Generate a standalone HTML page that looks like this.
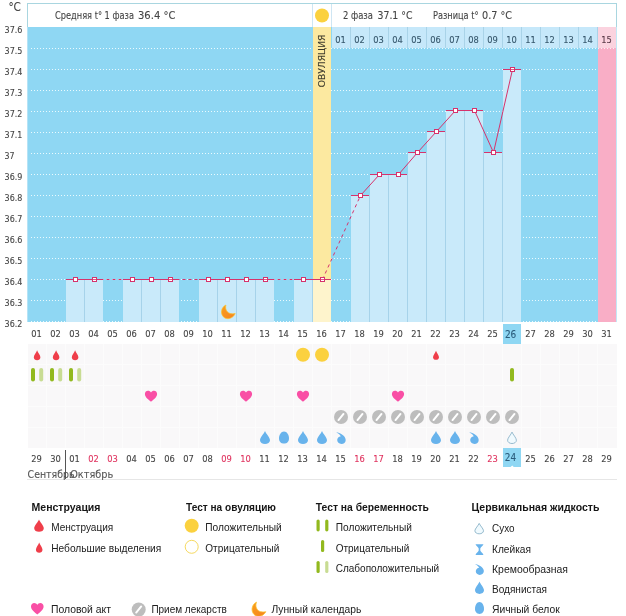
<!DOCTYPE html>
<html lang="ru"><head><meta charset="utf-8"><title>График базальной температуры</title>
<style>html,body{margin:0;padding:0;background:#fff}svg{display:block}text{font-family:"Liberation Sans", sans-serif}.c{font-family:"DejaVu Sans Condensed","DejaVu Sans","Liberation Sans",sans-serif;stroke-width:.1px}</style>
</head><body>
<svg width="626" height="616" viewBox="0 0 626 616">
<rect width="626" height="616" fill="#fff"/>
<defs>
<path id="drop" d="M0,-6.5 C0.9,-4 5,0.2 5,2.7 C5,5.1 2.7,6.5 0,6.5 C-2.7,6.5 -5,5.1 -5,2.7 C-5,0.2 -0.9,-4 0,-6.5Z"/>
<path id="heart" d="M0,5.6 C-2.2,3.6 -6.3,1 -6.3,-2.4 C-6.3,-4.4 -4.8,-5.7 -3.1,-5.7 C-1.8,-5.7 -0.6,-5 0,-3.8 C0.6,-5 1.8,-5.7 3.1,-5.7 C4.8,-5.7 6.3,-4.4 6.3,-2.4 C6.3,1 2.2,3.6 0,5.6Z"/>
<g id="med"><circle r="7" fill="#bdbdbd"/><line x1="-2.5" y1="3.05" x2="2.5" y2="-3.05" stroke="#fff" stroke-width="2" stroke-linecap="round"/></g>
<path id="egg" d="M0,-6 C3,-6 5,-2.6 5,0.8 C5,4 2.8,6 0,6 C-2.8,6 -5,4 -5,0.8 C-5,-2.6 -3,-6 0,-6Z"/>
<path id="cream" d="M-4.8,-5.9 C-1,-5.4 4.7,-2.6 4.7,1.8 C4.7,4.4 2.8,5.9 0.4,5.9 C-2,5.9 -3.8,4.3 -3.8,2 C-3.8,0 -2.3,-1.6 -0.2,-1.8 C-1,-3.4 -2.6,-4.8 -4.8,-5.9Z"/>
<path id="sticky" d="M-4,-5.3 L4,-5.3 C3.3,-3.3 1.2,-2.6 0.8,-1 L0.8,1 C1.2,2.6 3.3,3.3 4,5.3 L-4,5.3 C-3.3,3.3 -1.2,2.6 -0.8,1 L-0.8,-1 C-1.2,-2.6 -3.3,-3.3 -4,-5.3Z"/>
<linearGradient id="mg" x1="0" y1="0" x2="1" y2="1"><stop offset="0" stop-color="#f9a01b"/><stop offset="1" stop-color="#f5821f"/></linearGradient>
<path id="moon" d="M-2.6,-7.4 C-4.2,-2.6 -0.6,3.6 7.2,1.6 C5.6,5.4 1.8,7.6 -1.8,7 C-5.8,6.2 -7.8,2.4 -7.2,-1.4 C-6.8,-4.2 -5,-6.4 -2.6,-7.4Z"/>
<path id="moon2" d="M-2.6,-7.4 C-4.9,-2 -1.4,4.6 7.2,2.6 C5.4,6 1.8,8 -1.8,7.4 C-5.8,6.6 -7.8,2.6 -7.2,-1.2 C-6.8,-4 -5,-6.4 -2.6,-7.4Z"/>
</defs>
<rect x="27.5" y="3.5" width="589" height="24" fill="#fff" stroke="#a9d6e0"/>
<line x1="312.5" y1="4" x2="312.5" y2="27" stroke="#cfe6f3"/>
<line x1="331.5" y1="4" x2="331.5" y2="27" stroke="#cfe6f3"/>
<circle cx="322" cy="15.5" r="7" fill="#fbd13f"/>
<rect x="27" y="27" width="589" height="295" fill="#8fd7f3"/>
<rect x="616" y="27" width="1" height="295" fill="#c3e8f6"/>
<rect x="27" y="27" width="1" height="295" fill="#b5e3f6"/>
<rect x="332" y="27" width="266" height="21" fill="#c6e8fa"/>
<rect x="598" y="27" width="18" height="21" fill="#fbd3df"/>
<rect x="350" y="27" width="1" height="21" fill="#a9d3e8"/>
<rect x="369" y="27" width="1" height="21" fill="#a9d3e8"/>
<rect x="388" y="27" width="1" height="21" fill="#a9d3e8"/>
<rect x="407" y="27" width="1" height="21" fill="#a9d3e8"/>
<rect x="426" y="27" width="1" height="21" fill="#a9d3e8"/>
<rect x="445" y="27" width="1" height="21" fill="#a9d3e8"/>
<rect x="464" y="27" width="1" height="21" fill="#a9d3e8"/>
<rect x="483" y="27" width="1" height="21" fill="#a9d3e8"/>
<rect x="502" y="27" width="1" height="21" fill="#a9d3e8"/>
<rect x="521" y="27" width="1" height="21" fill="#a9d3e8"/>
<rect x="540" y="27" width="1" height="21" fill="#a9d3e8"/>
<rect x="559" y="27" width="1" height="21" fill="#a9d3e8"/>
<rect x="578" y="27" width="1" height="21" fill="#a9d3e8"/>
<rect x="597" y="27" width="1" height="21" fill="#a9d3e8"/>
<line x1="31" y1="48.5" x2="598" y2="48.5" stroke="#eafafe" stroke-width="1" stroke-dasharray="1 2"/>
<line x1="31" y1="69.5" x2="598" y2="69.5" stroke="#eafafe" stroke-width="1" stroke-dasharray="1 2"/>
<line x1="31" y1="90.5" x2="598" y2="90.5" stroke="#eafafe" stroke-width="1" stroke-dasharray="1 2"/>
<line x1="31" y1="111.5" x2="598" y2="111.5" stroke="#eafafe" stroke-width="1" stroke-dasharray="1 2"/>
<line x1="31" y1="132.5" x2="598" y2="132.5" stroke="#eafafe" stroke-width="1" stroke-dasharray="1 2"/>
<line x1="31" y1="153.5" x2="598" y2="153.5" stroke="#eafafe" stroke-width="1" stroke-dasharray="1 2"/>
<line x1="31" y1="174.5" x2="598" y2="174.5" stroke="#eafafe" stroke-width="1" stroke-dasharray="1 2"/>
<line x1="31" y1="195.5" x2="598" y2="195.5" stroke="#eafafe" stroke-width="1" stroke-dasharray="1 2"/>
<line x1="31" y1="216.5" x2="598" y2="216.5" stroke="#eafafe" stroke-width="1" stroke-dasharray="1 2"/>
<line x1="31" y1="237.5" x2="598" y2="237.5" stroke="#eafafe" stroke-width="1" stroke-dasharray="1 2"/>
<line x1="31" y1="258.5" x2="598" y2="258.5" stroke="#eafafe" stroke-width="1" stroke-dasharray="1 2"/>
<line x1="31" y1="279.5" x2="598" y2="279.5" stroke="#eafafe" stroke-width="1" stroke-dasharray="1 2"/>
<line x1="31" y1="300.5" x2="598" y2="300.5" stroke="#eafafe" stroke-width="1" stroke-dasharray="1 2"/>
<line x1="31" y1="321.5" x2="598" y2="321.5" stroke="#eafafe" stroke-width="1" stroke-dasharray="1 2"/>
<rect x="313" y="27" width="18" height="295" fill="#fce9a0"/>
<rect x="598" y="48" width="18" height="274" fill="#f9aec6"/>
<line x1="598" y1="48.5" x2="616" y2="48.5" stroke="#fdeef3" stroke-width="1" stroke-dasharray="1 2"/>
<rect x="66" y="279" width="18" height="43" fill="#c9eafa"/>
<rect x="84" y="279" width="1" height="43" fill="#a6d3ea"/>
<rect x="85" y="279" width="18" height="43" fill="#c9eafa"/>
<rect x="123" y="279" width="18" height="43" fill="#c9eafa"/>
<rect x="141" y="279" width="1" height="43" fill="#a6d3ea"/>
<rect x="142" y="279" width="18" height="43" fill="#c9eafa"/>
<rect x="160" y="279" width="1" height="43" fill="#a6d3ea"/>
<rect x="161" y="279" width="18" height="43" fill="#c9eafa"/>
<rect x="199" y="279" width="18" height="43" fill="#c9eafa"/>
<rect x="217" y="279" width="1" height="43" fill="#a6d3ea"/>
<rect x="218" y="279" width="18" height="43" fill="#c9eafa"/>
<rect x="236" y="279" width="1" height="43" fill="#a6d3ea"/>
<rect x="237" y="279" width="18" height="43" fill="#c9eafa"/>
<rect x="255" y="279" width="1" height="43" fill="#a6d3ea"/>
<rect x="256" y="279" width="18" height="43" fill="#c9eafa"/>
<rect x="294" y="279" width="18" height="43" fill="#c9eafa"/>
<rect x="312" y="279" width="1" height="43" fill="#a6d3ea"/>
<rect x="313" y="279" width="18" height="43" fill="#fef4cc"/>
<rect x="351" y="195" width="18" height="127" fill="#c9eafa"/>
<rect x="369" y="195" width="1" height="127" fill="#a6d3ea"/>
<rect x="370" y="174" width="18" height="148" fill="#c9eafa"/>
<rect x="388" y="174" width="1" height="148" fill="#a6d3ea"/>
<rect x="389" y="174" width="18" height="148" fill="#c9eafa"/>
<rect x="407" y="174" width="1" height="148" fill="#a6d3ea"/>
<rect x="408" y="152" width="18" height="170" fill="#c9eafa"/>
<rect x="426" y="152" width="1" height="170" fill="#a6d3ea"/>
<rect x="427" y="131" width="18" height="191" fill="#c9eafa"/>
<rect x="445" y="131" width="1" height="191" fill="#a6d3ea"/>
<rect x="446" y="110" width="18" height="212" fill="#c9eafa"/>
<rect x="464" y="110" width="1" height="212" fill="#a6d3ea"/>
<rect x="465" y="110" width="18" height="212" fill="#c9eafa"/>
<rect x="483" y="152" width="1" height="170" fill="#a6d3ea"/>
<rect x="484" y="152" width="18" height="170" fill="#c9eafa"/>
<rect x="502" y="152" width="1" height="170" fill="#a6d3ea"/>
<rect x="503" y="69" width="18" height="253" fill="#c9eafa"/>
<use href="#moon" transform="translate(228.4,312) scale(0.94)" fill="url(#mg)" stroke="#fbc12d" stroke-width="0.8"/>
<line x1="75.5" y1="279.5" x2="94.5" y2="279.5" stroke="#d6336c" stroke-width="1"/>
<line x1="94.5" y1="279.5" x2="132.5" y2="279.5" stroke="#d6336c" stroke-width="1" stroke-dasharray="3 3"/>
<line x1="132.5" y1="279.5" x2="151.5" y2="279.5" stroke="#d6336c" stroke-width="1"/>
<line x1="151.5" y1="279.5" x2="170.5" y2="279.5" stroke="#d6336c" stroke-width="1"/>
<line x1="170.5" y1="279.5" x2="208.5" y2="279.5" stroke="#d6336c" stroke-width="1" stroke-dasharray="3 3"/>
<line x1="208.5" y1="279.5" x2="227.5" y2="279.5" stroke="#d6336c" stroke-width="1"/>
<line x1="227.5" y1="279.5" x2="246.5" y2="279.5" stroke="#d6336c" stroke-width="1"/>
<line x1="246.5" y1="279.5" x2="265.5" y2="279.5" stroke="#d6336c" stroke-width="1"/>
<line x1="265.5" y1="279.5" x2="303.5" y2="279.5" stroke="#d6336c" stroke-width="1" stroke-dasharray="3 3"/>
<line x1="303.5" y1="279.5" x2="322.5" y2="279.5" stroke="#d6336c" stroke-width="1"/>
<line x1="322.5" y1="279.5" x2="360.5" y2="195.5" stroke="#d6336c" stroke-width="1" stroke-dasharray="3.3 3.3"/>
<line x1="360.5" y1="195.5" x2="379.5" y2="174.5" stroke="#d6336c" stroke-width="1"/>
<line x1="379.5" y1="174.5" x2="398.5" y2="174.5" stroke="#d6336c" stroke-width="1"/>
<line x1="398.5" y1="174.5" x2="417.5" y2="152.5" stroke="#d6336c" stroke-width="1"/>
<line x1="417.5" y1="152.5" x2="436.5" y2="131.5" stroke="#d6336c" stroke-width="1"/>
<line x1="436.5" y1="131.5" x2="455.5" y2="110.5" stroke="#d6336c" stroke-width="1"/>
<line x1="455.5" y1="110.5" x2="474.5" y2="110.5" stroke="#d6336c" stroke-width="1"/>
<line x1="474.5" y1="110.5" x2="493.5" y2="152.5" stroke="#d6336c" stroke-width="1"/>
<line x1="493.5" y1="152.5" x2="512.5" y2="69.5" stroke="#d6336c" stroke-width="1"/>
<rect x="66" y="279" width="18" height="1" fill="#d6336c"/>
<rect x="85" y="279" width="18" height="1" fill="#d6336c"/>
<rect x="123" y="279" width="18" height="1" fill="#d6336c"/>
<rect x="142" y="279" width="18" height="1" fill="#d6336c"/>
<rect x="161" y="279" width="18" height="1" fill="#d6336c"/>
<rect x="199" y="279" width="18" height="1" fill="#d6336c"/>
<rect x="218" y="279" width="18" height="1" fill="#d6336c"/>
<rect x="237" y="279" width="18" height="1" fill="#d6336c"/>
<rect x="256" y="279" width="18" height="1" fill="#d6336c"/>
<rect x="294" y="279" width="18" height="1" fill="#d6336c"/>
<rect x="313" y="279" width="18" height="1" fill="#d6336c"/>
<rect x="351" y="195" width="18" height="1" fill="#d6336c"/>
<rect x="370" y="174" width="18" height="1" fill="#d6336c"/>
<rect x="389" y="174" width="18" height="1" fill="#d6336c"/>
<rect x="408" y="152" width="18" height="1" fill="#d6336c"/>
<rect x="427" y="131" width="18" height="1" fill="#d6336c"/>
<rect x="446" y="110" width="18" height="1" fill="#d6336c"/>
<rect x="465" y="110" width="18" height="1" fill="#d6336c"/>
<rect x="484" y="152" width="18" height="1" fill="#d6336c"/>
<rect x="503" y="69" width="18" height="1" fill="#d6336c"/>
<rect x="73.5" y="277.5" width="4" height="4" fill="#fff" stroke="#d6336c" stroke-width="1"/>
<rect x="92.5" y="277.5" width="4" height="4" fill="#fff" stroke="#d6336c" stroke-width="1"/>
<rect x="93" y="279" width="3" height="1" fill="#d6336c" fill-opacity="0.8"/>
<rect x="130.5" y="277.5" width="4" height="4" fill="#fff" stroke="#d6336c" stroke-width="1"/>
<rect x="149.5" y="277.5" width="4" height="4" fill="#fff" stroke="#d6336c" stroke-width="1"/>
<rect x="168.5" y="277.5" width="4" height="4" fill="#fff" stroke="#d6336c" stroke-width="1"/>
<rect x="169" y="279" width="3" height="1" fill="#d6336c" fill-opacity="0.8"/>
<rect x="206.5" y="277.5" width="4" height="4" fill="#fff" stroke="#d6336c" stroke-width="1"/>
<rect x="225.5" y="277.5" width="4" height="4" fill="#fff" stroke="#d6336c" stroke-width="1"/>
<rect x="244.5" y="277.5" width="4" height="4" fill="#fff" stroke="#d6336c" stroke-width="1"/>
<rect x="263.5" y="277.5" width="4" height="4" fill="#fff" stroke="#d6336c" stroke-width="1"/>
<rect x="264" y="279" width="3" height="1" fill="#d6336c" fill-opacity="0.8"/>
<rect x="301.5" y="277.5" width="4" height="4" fill="#fff" stroke="#d6336c" stroke-width="1"/>
<rect x="320.5" y="277.5" width="4" height="4" fill="#fff" stroke="#d6336c" stroke-width="1"/>
<rect x="321" y="279" width="3" height="1" fill="#d6336c" fill-opacity="0.8"/>
<rect x="358.5" y="193.5" width="4" height="4" fill="#fff" stroke="#d6336c" stroke-width="1"/>
<rect x="377.5" y="172.5" width="4" height="4" fill="#fff" stroke="#d6336c" stroke-width="1"/>
<rect x="396.5" y="172.5" width="4" height="4" fill="#fff" stroke="#d6336c" stroke-width="1"/>
<rect x="415.5" y="150.5" width="4" height="4" fill="#fff" stroke="#d6336c" stroke-width="1"/>
<rect x="434.5" y="129.5" width="4" height="4" fill="#fff" stroke="#d6336c" stroke-width="1"/>
<rect x="453.5" y="108.5" width="4" height="4" fill="#fff" stroke="#d6336c" stroke-width="1"/>
<rect x="472.5" y="108.5" width="4" height="4" fill="#fff" stroke="#d6336c" stroke-width="1"/>
<rect x="491.5" y="150.5" width="4" height="4" fill="#fff" stroke="#d6336c" stroke-width="1"/>
<rect x="510.5" y="67.5" width="4" height="4" fill="#fff" stroke="#d6336c" stroke-width="1"/>
<rect x="511" y="69" width="3" height="1" fill="#d6336c" fill-opacity="0.8"/>
<text class="c" x="8.4" y="11.2" font-size="12.5" fill="#444" stroke="#444" textLength="12.5" lengthAdjust="spacingAndGlyphs">°C</text>
<text class="c" x="4.6" y="33" font-size="9.3" fill="#444" stroke="#444" textLength="17.8" lengthAdjust="spacingAndGlyphs">37.6</text>
<text class="c" x="4.6" y="54" font-size="9.3" fill="#444" stroke="#444" textLength="17.8" lengthAdjust="spacingAndGlyphs">37.5</text>
<text class="c" x="4.6" y="75" font-size="9.3" fill="#444" stroke="#444" textLength="17.8" lengthAdjust="spacingAndGlyphs">37.4</text>
<text class="c" x="4.6" y="96" font-size="9.3" fill="#444" stroke="#444" textLength="17.8" lengthAdjust="spacingAndGlyphs">37.3</text>
<text class="c" x="4.6" y="117" font-size="9.3" fill="#444" stroke="#444" textLength="17.8" lengthAdjust="spacingAndGlyphs">37.2</text>
<text class="c" x="4.6" y="138" font-size="9.3" fill="#444" stroke="#444" textLength="17.8" lengthAdjust="spacingAndGlyphs">37.1</text>
<text class="c" x="4.6" y="159" font-size="9.3" fill="#444" stroke="#444" textLength="10" lengthAdjust="spacingAndGlyphs">37</text>
<text class="c" x="4.6" y="180" font-size="9.3" fill="#444" stroke="#444" textLength="17.8" lengthAdjust="spacingAndGlyphs">36.9</text>
<text class="c" x="4.6" y="201" font-size="9.3" fill="#444" stroke="#444" textLength="17.8" lengthAdjust="spacingAndGlyphs">36.8</text>
<text class="c" x="4.6" y="222" font-size="9.3" fill="#444" stroke="#444" textLength="17.8" lengthAdjust="spacingAndGlyphs">36.7</text>
<text class="c" x="4.6" y="243" font-size="9.3" fill="#444" stroke="#444" textLength="17.8" lengthAdjust="spacingAndGlyphs">36.6</text>
<text class="c" x="4.6" y="264" font-size="9.3" fill="#444" stroke="#444" textLength="17.8" lengthAdjust="spacingAndGlyphs">36.5</text>
<text class="c" x="4.6" y="285" font-size="9.3" fill="#444" stroke="#444" textLength="17.8" lengthAdjust="spacingAndGlyphs">36.4</text>
<text class="c" x="4.6" y="306" font-size="9.3" fill="#444" stroke="#444" textLength="17.8" lengthAdjust="spacingAndGlyphs">36.3</text>
<text class="c" x="4.6" y="327" font-size="9.3" fill="#444" stroke="#444" textLength="17.8" lengthAdjust="spacingAndGlyphs">36.2</text>
<text class="c" x="55" y="19.3" font-size="10" fill="#444" stroke="#444" textLength="79" lengthAdjust="spacingAndGlyphs">Средняя t° 1 фаза</text>
<text class="c" x="138" y="19.3" font-size="11" fill="#444" stroke="#444" textLength="37.5" lengthAdjust="spacingAndGlyphs">36.4 °C</text>
<text class="c" x="343" y="19.3" font-size="10" fill="#444" stroke="#444" textLength="30" lengthAdjust="spacingAndGlyphs">2 фаза</text>
<text class="c" x="377.5" y="19.3" font-size="11" fill="#444" stroke="#444" textLength="35" lengthAdjust="spacingAndGlyphs">37.1 °C</text>
<text class="c" x="433" y="19.3" font-size="10" fill="#444" stroke="#444" textLength="45.5" lengthAdjust="spacingAndGlyphs">Разница t°</text>
<text class="c" x="482" y="19.3" font-size="11" fill="#444" stroke="#444" textLength="30" lengthAdjust="spacingAndGlyphs">0.7 °C</text>
<text class="c" transform="translate(324.8,87.2) rotate(-90)" font-size="9.4" fill="#3c3a2c" stroke="#3c3a2c" textLength="52.6" lengthAdjust="spacingAndGlyphs">ОВУЛЯЦИЯ</text>
<text class="c" x="340.5" y="43" font-size="9.3" fill="#35566b" stroke="#35566b" text-anchor="middle" textLength="10.6" lengthAdjust="spacingAndGlyphs">01</text>
<text class="c" x="359.5" y="43" font-size="9.3" fill="#35566b" stroke="#35566b" text-anchor="middle" textLength="10.6" lengthAdjust="spacingAndGlyphs">02</text>
<text class="c" x="378.5" y="43" font-size="9.3" fill="#35566b" stroke="#35566b" text-anchor="middle" textLength="10.6" lengthAdjust="spacingAndGlyphs">03</text>
<text class="c" x="397.5" y="43" font-size="9.3" fill="#35566b" stroke="#35566b" text-anchor="middle" textLength="10.6" lengthAdjust="spacingAndGlyphs">04</text>
<text class="c" x="416.5" y="43" font-size="9.3" fill="#35566b" stroke="#35566b" text-anchor="middle" textLength="10.6" lengthAdjust="spacingAndGlyphs">05</text>
<text class="c" x="435.5" y="43" font-size="9.3" fill="#35566b" stroke="#35566b" text-anchor="middle" textLength="10.6" lengthAdjust="spacingAndGlyphs">06</text>
<text class="c" x="454.5" y="43" font-size="9.3" fill="#35566b" stroke="#35566b" text-anchor="middle" textLength="10.6" lengthAdjust="spacingAndGlyphs">07</text>
<text class="c" x="473.5" y="43" font-size="9.3" fill="#35566b" stroke="#35566b" text-anchor="middle" textLength="10.6" lengthAdjust="spacingAndGlyphs">08</text>
<text class="c" x="492.5" y="43" font-size="9.3" fill="#35566b" stroke="#35566b" text-anchor="middle" textLength="10.6" lengthAdjust="spacingAndGlyphs">09</text>
<text class="c" x="511.5" y="43" font-size="9.3" fill="#35566b" stroke="#35566b" text-anchor="middle" textLength="10.6" lengthAdjust="spacingAndGlyphs">10</text>
<text class="c" x="530.5" y="43" font-size="9.3" fill="#35566b" stroke="#35566b" text-anchor="middle" textLength="10.6" lengthAdjust="spacingAndGlyphs">11</text>
<text class="c" x="549.5" y="43" font-size="9.3" fill="#35566b" stroke="#35566b" text-anchor="middle" textLength="10.6" lengthAdjust="spacingAndGlyphs">12</text>
<text class="c" x="568.5" y="43" font-size="9.3" fill="#35566b" stroke="#35566b" text-anchor="middle" textLength="10.6" lengthAdjust="spacingAndGlyphs">13</text>
<text class="c" x="587.5" y="43" font-size="9.3" fill="#35566b" stroke="#35566b" text-anchor="middle" textLength="10.6" lengthAdjust="spacingAndGlyphs">14</text>
<text class="c" x="606.5" y="43" font-size="9.3" fill="#5a3a48" stroke="#5a3a48" text-anchor="middle" textLength="10.6" lengthAdjust="spacingAndGlyphs">15</text>
<rect x="503" y="324" width="18" height="20" fill="#8fd7f3"/>
<text class="c" x="36.6" y="336.8" font-size="9.3" fill="#444" stroke="#444" text-anchor="middle" textLength="10.6" lengthAdjust="spacingAndGlyphs">01</text>
<text class="c" x="55.6" y="336.8" font-size="9.3" fill="#444" stroke="#444" text-anchor="middle" textLength="10.6" lengthAdjust="spacingAndGlyphs">02</text>
<text class="c" x="74.6" y="336.8" font-size="9.3" fill="#444" stroke="#444" text-anchor="middle" textLength="10.6" lengthAdjust="spacingAndGlyphs">03</text>
<text class="c" x="93.6" y="336.8" font-size="9.3" fill="#444" stroke="#444" text-anchor="middle" textLength="10.6" lengthAdjust="spacingAndGlyphs">04</text>
<text class="c" x="112.6" y="336.8" font-size="9.3" fill="#444" stroke="#444" text-anchor="middle" textLength="10.6" lengthAdjust="spacingAndGlyphs">05</text>
<text class="c" x="131.6" y="336.8" font-size="9.3" fill="#444" stroke="#444" text-anchor="middle" textLength="10.6" lengthAdjust="spacingAndGlyphs">06</text>
<text class="c" x="150.6" y="336.8" font-size="9.3" fill="#444" stroke="#444" text-anchor="middle" textLength="10.6" lengthAdjust="spacingAndGlyphs">07</text>
<text class="c" x="169.6" y="336.8" font-size="9.3" fill="#444" stroke="#444" text-anchor="middle" textLength="10.6" lengthAdjust="spacingAndGlyphs">08</text>
<text class="c" x="188.6" y="336.8" font-size="9.3" fill="#444" stroke="#444" text-anchor="middle" textLength="10.6" lengthAdjust="spacingAndGlyphs">09</text>
<text class="c" x="207.6" y="336.8" font-size="9.3" fill="#444" stroke="#444" text-anchor="middle" textLength="10.6" lengthAdjust="spacingAndGlyphs">10</text>
<text class="c" x="226.6" y="336.8" font-size="9.3" fill="#444" stroke="#444" text-anchor="middle" textLength="10.6" lengthAdjust="spacingAndGlyphs">11</text>
<text class="c" x="245.6" y="336.8" font-size="9.3" fill="#444" stroke="#444" text-anchor="middle" textLength="10.6" lengthAdjust="spacingAndGlyphs">12</text>
<text class="c" x="264.6" y="336.8" font-size="9.3" fill="#444" stroke="#444" text-anchor="middle" textLength="10.6" lengthAdjust="spacingAndGlyphs">13</text>
<text class="c" x="283.6" y="336.8" font-size="9.3" fill="#444" stroke="#444" text-anchor="middle" textLength="10.6" lengthAdjust="spacingAndGlyphs">14</text>
<text class="c" x="302.6" y="336.8" font-size="9.3" fill="#444" stroke="#444" text-anchor="middle" textLength="10.6" lengthAdjust="spacingAndGlyphs">15</text>
<text class="c" x="321.6" y="336.8" font-size="9.3" fill="#444" stroke="#444" text-anchor="middle" textLength="10.6" lengthAdjust="spacingAndGlyphs">16</text>
<text class="c" x="340.6" y="336.8" font-size="9.3" fill="#444" stroke="#444" text-anchor="middle" textLength="10.6" lengthAdjust="spacingAndGlyphs">17</text>
<text class="c" x="359.6" y="336.8" font-size="9.3" fill="#444" stroke="#444" text-anchor="middle" textLength="10.6" lengthAdjust="spacingAndGlyphs">18</text>
<text class="c" x="378.6" y="336.8" font-size="9.3" fill="#444" stroke="#444" text-anchor="middle" textLength="10.6" lengthAdjust="spacingAndGlyphs">19</text>
<text class="c" x="397.6" y="336.8" font-size="9.3" fill="#444" stroke="#444" text-anchor="middle" textLength="10.6" lengthAdjust="spacingAndGlyphs">20</text>
<text class="c" x="416.6" y="336.8" font-size="9.3" fill="#444" stroke="#444" text-anchor="middle" textLength="10.6" lengthAdjust="spacingAndGlyphs">21</text>
<text class="c" x="435.6" y="336.8" font-size="9.3" fill="#444" stroke="#444" text-anchor="middle" textLength="10.6" lengthAdjust="spacingAndGlyphs">22</text>
<text class="c" x="454.6" y="336.8" font-size="9.3" fill="#444" stroke="#444" text-anchor="middle" textLength="10.6" lengthAdjust="spacingAndGlyphs">23</text>
<text class="c" x="473.6" y="336.8" font-size="9.3" fill="#444" stroke="#444" text-anchor="middle" textLength="10.6" lengthAdjust="spacingAndGlyphs">24</text>
<text class="c" x="492.6" y="336.8" font-size="9.3" fill="#444" stroke="#444" text-anchor="middle" textLength="10.6" lengthAdjust="spacingAndGlyphs">25</text>
<text class="c" x="510.6" y="337.8" font-size="10.5" fill="#2b5d7c" stroke="#2b5d7c" text-anchor="middle" textLength="11.4" lengthAdjust="spacingAndGlyphs">26</text>
<text class="c" x="530.6" y="336.8" font-size="9.3" fill="#444" stroke="#444" text-anchor="middle" textLength="10.6" lengthAdjust="spacingAndGlyphs">27</text>
<text class="c" x="549.6" y="336.8" font-size="9.3" fill="#444" stroke="#444" text-anchor="middle" textLength="10.6" lengthAdjust="spacingAndGlyphs">28</text>
<text class="c" x="568.6" y="336.8" font-size="9.3" fill="#444" stroke="#444" text-anchor="middle" textLength="10.6" lengthAdjust="spacingAndGlyphs">29</text>
<text class="c" x="587.6" y="336.8" font-size="9.3" fill="#444" stroke="#444" text-anchor="middle" textLength="10.6" lengthAdjust="spacingAndGlyphs">30</text>
<text class="c" x="606.6" y="336.8" font-size="9.3" fill="#444" stroke="#444" text-anchor="middle" textLength="10.6" lengthAdjust="spacingAndGlyphs">31</text>
<rect x="28" y="344" width="589" height="104" fill="#f9f8f9"/>
<rect x="28" y="364" width="589" height="1" fill="#fcfcfc"/>
<rect x="28" y="385" width="589" height="1" fill="#fcfcfc"/>
<rect x="28" y="406" width="589" height="1" fill="#fcfcfc"/>
<rect x="28" y="427" width="589" height="1" fill="#fcfcfc"/>
<rect x="46" y="344" width="1" height="104" fill="#fcfcfc"/>
<rect x="65" y="344" width="1" height="104" fill="#fcfcfc"/>
<rect x="84" y="344" width="1" height="104" fill="#fcfcfc"/>
<rect x="103" y="344" width="1" height="104" fill="#fcfcfc"/>
<rect x="122" y="344" width="1" height="104" fill="#fcfcfc"/>
<rect x="141" y="344" width="1" height="104" fill="#fcfcfc"/>
<rect x="160" y="344" width="1" height="104" fill="#fcfcfc"/>
<rect x="179" y="344" width="1" height="104" fill="#fcfcfc"/>
<rect x="198" y="344" width="1" height="104" fill="#fcfcfc"/>
<rect x="217" y="344" width="1" height="104" fill="#fcfcfc"/>
<rect x="236" y="344" width="1" height="104" fill="#fcfcfc"/>
<rect x="255" y="344" width="1" height="104" fill="#fcfcfc"/>
<rect x="274" y="344" width="1" height="104" fill="#fcfcfc"/>
<rect x="293" y="344" width="1" height="104" fill="#fcfcfc"/>
<rect x="312" y="344" width="1" height="104" fill="#fcfcfc"/>
<rect x="331" y="344" width="1" height="104" fill="#fcfcfc"/>
<rect x="350" y="344" width="1" height="104" fill="#fcfcfc"/>
<rect x="369" y="344" width="1" height="104" fill="#fcfcfc"/>
<rect x="388" y="344" width="1" height="104" fill="#fcfcfc"/>
<rect x="407" y="344" width="1" height="104" fill="#fcfcfc"/>
<rect x="426" y="344" width="1" height="104" fill="#fcfcfc"/>
<rect x="445" y="344" width="1" height="104" fill="#fcfcfc"/>
<rect x="464" y="344" width="1" height="104" fill="#fcfcfc"/>
<rect x="483" y="344" width="1" height="104" fill="#fcfcfc"/>
<rect x="502" y="344" width="1" height="104" fill="#fcfcfc"/>
<rect x="521" y="344" width="1" height="104" fill="#fcfcfc"/>
<rect x="540" y="344" width="1" height="104" fill="#fcfcfc"/>
<rect x="559" y="344" width="1" height="104" fill="#fcfcfc"/>
<rect x="578" y="344" width="1" height="104" fill="#fcfcfc"/>
<rect x="597" y="344" width="1" height="104" fill="#fcfcfc"/>
<use href="#drop" transform="translate(37.1,355.3) scale(0.66,0.76)" fill="#ef3e4a"/>
<use href="#drop" transform="translate(56.1,355.3) scale(0.66,0.76)" fill="#ef3e4a"/>
<use href="#drop" transform="translate(75.1,355.3) scale(0.66,0.76)" fill="#ef3e4a"/>
<use href="#drop" transform="translate(436,355.3) scale(0.6,0.7)" fill="#ef3e4a"/>
<circle cx="303" cy="354.7" r="7" fill="#fbd13f"/>
<circle cx="322" cy="354.7" r="7" fill="#fbd13f"/>
<rect x="31" y="368" width="4" height="13.6" rx="2" fill="#92b91e"/>
<rect x="39.2" y="368" width="4" height="13.6" rx="2" fill="#c8dc93"/>
<rect x="50" y="368" width="4" height="13.6" rx="2" fill="#92b91e"/>
<rect x="58.2" y="368" width="4" height="13.6" rx="2" fill="#c8dc93"/>
<rect x="69" y="368" width="4" height="13.6" rx="2" fill="#92b91e"/>
<rect x="77.2" y="368" width="4" height="13.6" rx="2" fill="#c8dc93"/>
<rect x="510" y="368" width="4" height="13.6" rx="2" fill="#92b91e"/>
<use href="#heart" transform="translate(151,396.3) scale(0.97)" fill="#f94fa5"/>
<use href="#heart" transform="translate(246,396.3) scale(0.97)" fill="#f94fa5"/>
<use href="#heart" transform="translate(303,396.3) scale(0.97)" fill="#f94fa5"/>
<use href="#heart" transform="translate(398,396.3) scale(0.97)" fill="#f94fa5"/>
<use href="#med" transform="translate(341,417)"/>
<use href="#med" transform="translate(360,417)"/>
<use href="#med" transform="translate(379,417)"/>
<use href="#med" transform="translate(398,417)"/>
<use href="#med" transform="translate(417,417)"/>
<use href="#med" transform="translate(436,417)"/>
<use href="#med" transform="translate(455,417)"/>
<use href="#med" transform="translate(474,417)"/>
<use href="#med" transform="translate(493,417)"/>
<use href="#med" transform="translate(512,417)"/>
<use href="#drop" transform="translate(265,437.6)" fill="#68b3ec"/>
<use href="#egg" transform="translate(284,437.6)" fill="#68b3ec"/>
<use href="#drop" transform="translate(303,437.6)" fill="#68b3ec"/>
<use href="#drop" transform="translate(322,437.6)" fill="#68b3ec"/>
<use href="#cream" transform="translate(341,438.1)" fill="#68b3ec"/>
<use href="#drop" transform="translate(436,437.6)" fill="#68b3ec"/>
<use href="#drop" transform="translate(455,437.6)" fill="#68b3ec"/>
<use href="#cream" transform="translate(474,438.1)" fill="#68b3ec"/>
<use href="#drop" transform="translate(512,437.8) scale(0.88)" fill="#f0fafe" stroke="#8bb3c8" stroke-width="1"/>
<path d="M503,448 H521 V467 H513.8 L512.2,465.4 L510.6,467 H503Z" fill="#8fd7f3"/>
<text class="c" x="36.6" y="462.2" font-size="9.3" fill="#444" stroke="#444" text-anchor="middle" textLength="10.6" lengthAdjust="spacingAndGlyphs">29</text>
<text class="c" x="55.6" y="462.2" font-size="9.3" fill="#444" stroke="#444" text-anchor="middle" textLength="10.6" lengthAdjust="spacingAndGlyphs">30</text>
<text class="c" x="74.6" y="462.2" font-size="9.3" fill="#444" stroke="#444" text-anchor="middle" textLength="10.6" lengthAdjust="spacingAndGlyphs">01</text>
<text class="c" x="93.6" y="462.2" font-size="9.3" fill="#e0335f" stroke="#e0335f" text-anchor="middle" textLength="10.6" lengthAdjust="spacingAndGlyphs">02</text>
<text class="c" x="112.6" y="462.2" font-size="9.3" fill="#e0335f" stroke="#e0335f" text-anchor="middle" textLength="10.6" lengthAdjust="spacingAndGlyphs">03</text>
<text class="c" x="131.6" y="462.2" font-size="9.3" fill="#444" stroke="#444" text-anchor="middle" textLength="10.6" lengthAdjust="spacingAndGlyphs">04</text>
<text class="c" x="150.6" y="462.2" font-size="9.3" fill="#444" stroke="#444" text-anchor="middle" textLength="10.6" lengthAdjust="spacingAndGlyphs">05</text>
<text class="c" x="169.6" y="462.2" font-size="9.3" fill="#444" stroke="#444" text-anchor="middle" textLength="10.6" lengthAdjust="spacingAndGlyphs">06</text>
<text class="c" x="188.6" y="462.2" font-size="9.3" fill="#444" stroke="#444" text-anchor="middle" textLength="10.6" lengthAdjust="spacingAndGlyphs">07</text>
<text class="c" x="207.6" y="462.2" font-size="9.3" fill="#444" stroke="#444" text-anchor="middle" textLength="10.6" lengthAdjust="spacingAndGlyphs">08</text>
<text class="c" x="226.6" y="462.2" font-size="9.3" fill="#e0335f" stroke="#e0335f" text-anchor="middle" textLength="10.6" lengthAdjust="spacingAndGlyphs">09</text>
<text class="c" x="245.6" y="462.2" font-size="9.3" fill="#e0335f" stroke="#e0335f" text-anchor="middle" textLength="10.6" lengthAdjust="spacingAndGlyphs">10</text>
<text class="c" x="264.6" y="462.2" font-size="9.3" fill="#444" stroke="#444" text-anchor="middle" textLength="10.6" lengthAdjust="spacingAndGlyphs">11</text>
<text class="c" x="283.6" y="462.2" font-size="9.3" fill="#444" stroke="#444" text-anchor="middle" textLength="10.6" lengthAdjust="spacingAndGlyphs">12</text>
<text class="c" x="302.6" y="462.2" font-size="9.3" fill="#444" stroke="#444" text-anchor="middle" textLength="10.6" lengthAdjust="spacingAndGlyphs">13</text>
<text class="c" x="321.6" y="462.2" font-size="9.3" fill="#444" stroke="#444" text-anchor="middle" textLength="10.6" lengthAdjust="spacingAndGlyphs">14</text>
<text class="c" x="340.6" y="462.2" font-size="9.3" fill="#444" stroke="#444" text-anchor="middle" textLength="10.6" lengthAdjust="spacingAndGlyphs">15</text>
<text class="c" x="359.6" y="462.2" font-size="9.3" fill="#e0335f" stroke="#e0335f" text-anchor="middle" textLength="10.6" lengthAdjust="spacingAndGlyphs">16</text>
<text class="c" x="378.6" y="462.2" font-size="9.3" fill="#e0335f" stroke="#e0335f" text-anchor="middle" textLength="10.6" lengthAdjust="spacingAndGlyphs">17</text>
<text class="c" x="397.6" y="462.2" font-size="9.3" fill="#444" stroke="#444" text-anchor="middle" textLength="10.6" lengthAdjust="spacingAndGlyphs">18</text>
<text class="c" x="416.6" y="462.2" font-size="9.3" fill="#444" stroke="#444" text-anchor="middle" textLength="10.6" lengthAdjust="spacingAndGlyphs">19</text>
<text class="c" x="435.6" y="462.2" font-size="9.3" fill="#444" stroke="#444" text-anchor="middle" textLength="10.6" lengthAdjust="spacingAndGlyphs">20</text>
<text class="c" x="454.6" y="462.2" font-size="9.3" fill="#444" stroke="#444" text-anchor="middle" textLength="10.6" lengthAdjust="spacingAndGlyphs">21</text>
<text class="c" x="473.6" y="462.2" font-size="9.3" fill="#444" stroke="#444" text-anchor="middle" textLength="10.6" lengthAdjust="spacingAndGlyphs">22</text>
<text class="c" x="492.6" y="462.2" font-size="9.3" fill="#e0335f" stroke="#e0335f" text-anchor="middle" textLength="10.6" lengthAdjust="spacingAndGlyphs">23</text>
<text class="c" x="510.5" y="461" font-size="10.5" fill="#2b5d7c" stroke="#2b5d7c" text-anchor="middle" textLength="11.4" lengthAdjust="spacingAndGlyphs">24</text>
<text class="c" x="530.6" y="462.2" font-size="9.3" fill="#444" stroke="#444" text-anchor="middle" textLength="10.6" lengthAdjust="spacingAndGlyphs">25</text>
<text class="c" x="549.6" y="462.2" font-size="9.3" fill="#444" stroke="#444" text-anchor="middle" textLength="10.6" lengthAdjust="spacingAndGlyphs">26</text>
<text class="c" x="568.6" y="462.2" font-size="9.3" fill="#444" stroke="#444" text-anchor="middle" textLength="10.6" lengthAdjust="spacingAndGlyphs">27</text>
<text class="c" x="587.6" y="462.2" font-size="9.3" fill="#444" stroke="#444" text-anchor="middle" textLength="10.6" lengthAdjust="spacingAndGlyphs">28</text>
<text class="c" x="606.6" y="462.2" font-size="9.3" fill="#444" stroke="#444" text-anchor="middle" textLength="10.6" lengthAdjust="spacingAndGlyphs">29</text>
<rect x="65" y="450" width="1" height="30" fill="#555"/>
<rect x="27" y="479" width="590" height="1" fill="#e6e6e6"/>
<text class="c" x="27.6" y="478.3" font-size="11" fill="#555" stroke="#555" textLength="47" lengthAdjust="spacingAndGlyphs">Сентябрь</text>
<text class="c" x="70.2" y="478.3" font-size="11" fill="#555" stroke="#555" textLength="43" lengthAdjust="spacingAndGlyphs">Октябрь</text>
<text x="31.5" y="511" font-size="11.6" font-weight="bold" fill="#161616" textLength="69" lengthAdjust="spacingAndGlyphs">Менструация</text>
<text x="186" y="511" font-size="11.6" font-weight="bold" fill="#161616" textLength="90" lengthAdjust="spacingAndGlyphs">Тест на овуляцию</text>
<text x="315.8" y="511" font-size="11.6" font-weight="bold" fill="#161616" textLength="113" lengthAdjust="spacingAndGlyphs">Тест на беременность</text>
<text x="471.5" y="511" font-size="11.6" font-weight="bold" fill="#161616" textLength="128" lengthAdjust="spacingAndGlyphs">Цервикальная жидкость</text>
<text x="51.2" y="530.5" font-size="11.4" fill="#202020" textLength="62" lengthAdjust="spacingAndGlyphs">Менструация</text>
<text x="51.2" y="551.5" font-size="11.4" fill="#202020" textLength="110" lengthAdjust="spacingAndGlyphs">Небольшие выделения</text>
<use href="#drop" transform="translate(39,525.6) scale(0.96,0.95)" fill="#ef3e4a"/>
<use href="#drop" transform="translate(39.2,547.6) scale(0.66,0.78)" fill="#ef3e4a"/>
<text x="205.3" y="530.5" font-size="11.4" fill="#202020" textLength="76.5" lengthAdjust="spacingAndGlyphs">Положительный</text>
<text x="205.3" y="551.5" font-size="11.4" fill="#202020" textLength="74" lengthAdjust="spacingAndGlyphs">Отрицательный</text>
<circle cx="191.7" cy="525.8" r="7" fill="#fbd13f"/>
<circle cx="191.7" cy="546.8" r="6.5" fill="#fff" stroke="#f6d960" stroke-width="1"/>
<text x="335.7" y="530.5" font-size="11.4" fill="#202020" textLength="76.2" lengthAdjust="spacingAndGlyphs">Положительный</text>
<text x="335.7" y="551.5" font-size="11.4" fill="#202020" textLength="73.6" lengthAdjust="spacingAndGlyphs">Отрицательный</text>
<text x="335.7" y="571.5" font-size="11.4" fill="#202020" textLength="103.5" lengthAdjust="spacingAndGlyphs">Слабоположительный</text>
<rect x="316.5" y="519.4" width="3.2" height="12" rx="1.6" fill="#92b91e"/>
<rect x="325.2" y="519.4" width="3.2" height="12" rx="1.6" fill="#92b91e"/>
<rect x="321" y="540" width="3.2" height="12" rx="1.6" fill="#92b91e"/>
<rect x="316.5" y="561" width="3.2" height="12" rx="1.6" fill="#92b91e"/>
<rect x="325.2" y="561" width="3.2" height="12" rx="1.6" fill="#c8dc93"/>
<text x="492" y="532.2" font-size="11.4" fill="#202020" textLength="22.5" lengthAdjust="spacingAndGlyphs">Сухо</text>
<text x="492" y="552.6" font-size="11.4" fill="#202020" textLength="39" lengthAdjust="spacingAndGlyphs">Клейкая</text>
<text x="492" y="573" font-size="11.4" fill="#202020" textLength="76" lengthAdjust="spacingAndGlyphs">Кремообразная</text>
<text x="492" y="592.8" font-size="11.4" fill="#202020" textLength="55" lengthAdjust="spacingAndGlyphs">Водянистая</text>
<text x="492" y="612.8" font-size="11.4" fill="#202020" textLength="67.7" lengthAdjust="spacingAndGlyphs">Яичный белок</text>
<use href="#drop" transform="translate(479.2,528.6) scale(0.86,0.8)" fill="#f0fafe" stroke="#8bb3c8" stroke-width="1.1"/>
<use href="#sticky" transform="translate(479.5,549.6)" fill="#68b3ec"/>
<use href="#cream" transform="translate(479.4,569.4) scale(0.95,0.93)" fill="#68b3ec"/>
<use href="#drop" transform="translate(479.5,587.8) scale(0.9,0.95)" fill="#68b3ec"/>
<use href="#egg" transform="translate(479.5,608) scale(0.9,1)" fill="#68b3ec"/>
<text x="51" y="613" font-size="11.4" fill="#202020" textLength="60" lengthAdjust="spacingAndGlyphs">Половой акт</text>
<text x="151.4" y="613" font-size="11.4" fill="#202020" textLength="75.4" lengthAdjust="spacingAndGlyphs">Прием лекарств</text>
<text x="271.4" y="613" font-size="11.4" fill="#202020" textLength="90" lengthAdjust="spacingAndGlyphs">Лунный календарь</text>
<use href="#heart" transform="translate(37.3,608.8)" fill="#f94fa5"/>
<use href="#med" transform="translate(138.7,609.5)"/>
<use href="#moon2" transform="translate(259,609.2) scale(0.95)" fill="url(#mg)" stroke="#fbc12d" stroke-width="0.8"/>
</svg>
</body></html>
